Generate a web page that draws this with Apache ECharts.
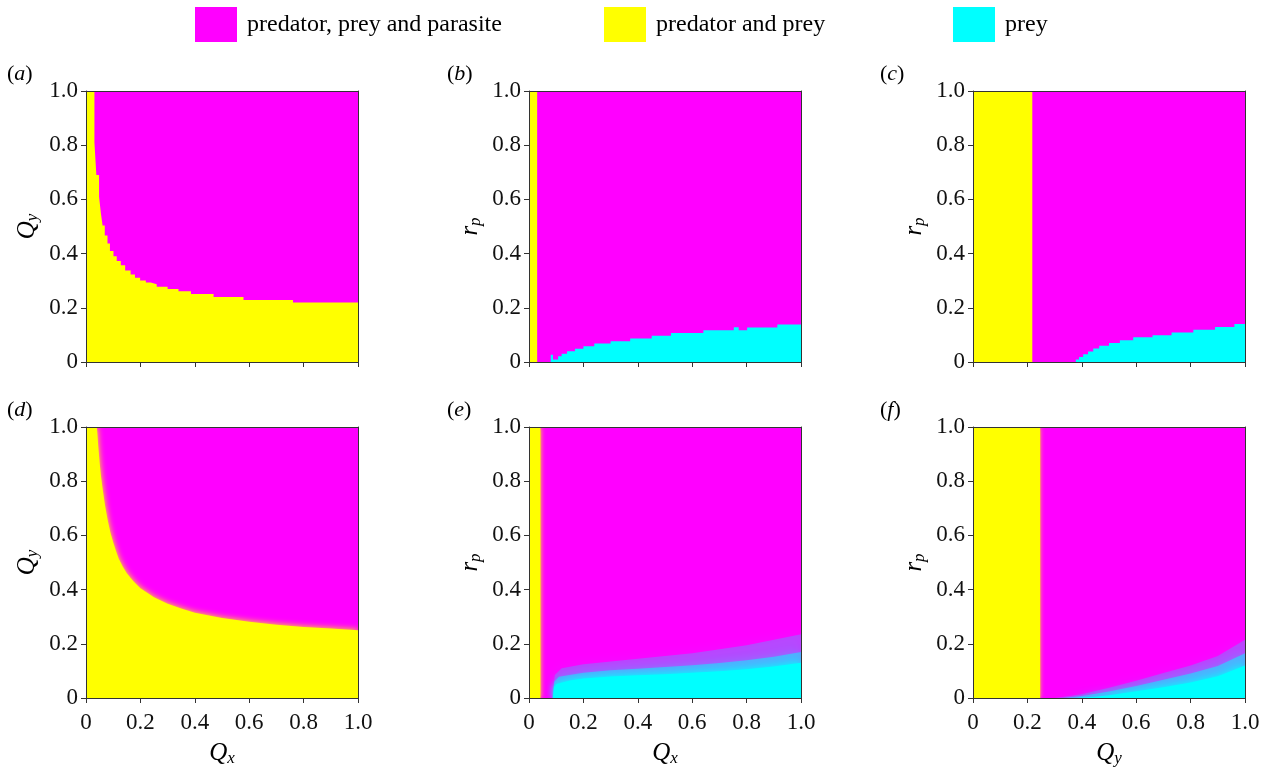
<!DOCTYPE html>
<html>
<head>
<meta charset="utf-8">
<script src="https://cdn.jsdelivr.net/npm/echarts@6/dist/echarts.min.js"></script>
<style>
  html, body { margin: 0; padding: 0; background: #fff; }
  #chart { width: 1269px; height: 774px; }
</style>
</head>
<body>
<div id="chart"></div>
<script>
// ---------------- DATA ----------------
const legendNames = ['predator, prey and parasite', 'predator and prey', 'prey'];
const tickLabels = ['0', '0.2', '0.4', '0.6', '0.8', '1.0'];
const panelLetters = ['a', 'b', 'c', 'd', 'e', 'f'];
const yAxisNames = [['Q', 'y'], ['r', 'p'], ['r', 'p'], ['Q', 'y'], ['r', 'p'], ['r', 'p']];
const xAxisNames = [null, null, null, ['Q', 'x'], ['Q', 'x'], ['Q', 'y']];

// whole parameter square (parasite coexistence background)
const fullSquare = [[0, 1], [1, 1]];

// (a) predator-and-prey region: top boundary [x, y] (stepped)
const aPredPrey = [[0, 1], [0.031, 0.81], [0.038, 0.69], [0.048, 0.61], [0.055, 0.547], [0.061, 0.504],
  [0.069, 0.467], [0.079, 0.437], [0.088, 0.41], [0.101, 0.39], [0.113, 0.373], [0.128, 0.357],
  [0.144, 0.338], [0.164, 0.323], [0.18, 0.311], [0.199, 0.301], [0.22, 0.293], [0.238, 0.287],
  [0.26, 0.278], [0.30, 0.269], [0.34, 0.261], [0.386, 0.251], [0.469, 0.24], [0.579, 0.229],
  [0.761, 0.22], [1.0, 0.22]];
// (b)
const bPredPrey = [[0, 1], [0.03, 1]];
const bPrey = [[0.08, 0.027], [0.088, 0.009], [0.107, 0.021], [0.12, 0.03], [0.14, 0.04], [0.169, 0.049],
  [0.2, 0.058], [0.24, 0.068], [0.3, 0.077], [0.372, 0.087], [0.451, 0.097], [0.522, 0.107],
  [0.641, 0.117], [0.753, 0.128], [0.771, 0.117], [0.802, 0.127], [0.913, 0.138], [1.0, 0.138]];
// (c)
const cPredPrey = [[0, 1], [0.218, 1]];
const cPrey = [[0.378, 0.009], [0.39, 0.018], [0.405, 0.029], [0.423, 0.039], [0.442, 0.05], [0.464, 0.06],
  [0.5, 0.07], [0.54, 0.08], [0.589, 0.091], [0.66, 0.099], [0.73, 0.109], [0.81, 0.119],
  [0.89, 0.129], [0.961, 0.14], [1.0, 0.14]];
// (d)
const dPredPrey = [[0, 1], [0.04, 1], [0.045, 0.93], [0.05, 0.87], [0.055, 0.82], [0.06, 0.78],
  [0.07, 0.71], [0.08, 0.655], [0.09, 0.61], [0.1, 0.575], [0.11, 0.543], [0.12, 0.515],
  [0.135, 0.485], [0.15, 0.46], [0.175, 0.43], [0.2, 0.405], [0.25, 0.372], [0.3, 0.348],
  [0.35, 0.33], [0.4, 0.315], [0.5, 0.295], [0.6, 0.281], [0.7, 0.27], [0.8, 0.262],
  [0.9, 0.256], [1.0, 0.25]];
// (e)
const ePredPrey = [[0, 1], [0.042, 1]];
const ePreyOuter = [[0.085, 0], [0.095, 0.085], [0.12, 0.11], [0.2, 0.125], [0.3, 0.135], [0.4, 0.145],
  [0.5, 0.155], [0.6, 0.165], [0.7, 0.18], [0.8, 0.195], [0.9, 0.215], [1.0, 0.235]];
const ePreyInner = [[0.087, 0], [0.093, 0.06], [0.11, 0.078], [0.2, 0.093], [0.3, 0.102], [0.4, 0.108],
  [0.5, 0.114], [0.6, 0.121], [0.7, 0.129], [0.8, 0.139], [0.9, 0.152], [1.0, 0.17]];
const ePrey = [[0.088, 0], [0.092, 0.04], [0.1, 0.052], [0.15, 0.065], [0.2, 0.072], [0.3, 0.079],
  [0.4, 0.084], [0.5, 0.088], [0.6, 0.093], [0.7, 0.099], [0.8, 0.106], [0.9, 0.116], [1.0, 0.13]];
// (f)
const fPredPrey = [[0, 1], [0.247, 1]];
const fPreyOuter = [[0.3, 0], [0.4, 0.014], [0.5, 0.038], [0.6, 0.064], [0.7, 0.092], [0.8, 0.12],
  [0.9, 0.155], [1.0, 0.215]];
const fPreyInner = [[0.33, 0], [0.4, 0.007], [0.5, 0.024], [0.6, 0.044], [0.7, 0.067], [0.8, 0.09],
  [0.9, 0.118], [1.0, 0.165]];
const fPrey = [[0.37, 0], [0.45, 0.005], [0.5, 0.01], [0.6, 0.025], [0.7, 0.04], [0.8, 0.057],
  [0.9, 0.08], [1.0, 0.12]];

// ---------------- STYLE / LAYOUT ----------------
const MAGENTA = '#ff00ff', YELLOW = '#ffff00', CYAN = '#00ffff';
const FONT = 'Liberation Serif';
const AXIS_COLOR = '#333';
const gridLefts = [86, 529, 973];
const gridTops = [91, 427];
const GW = 272, GH = 271;
const legendLefts = [195, 604, 953];

// layers per panel: [dataArray, legend-name index or -1, color, stepped, blur]
const panels = [
  [[aPredPrey, 1, YELLOW, true, 0]],
  [[bPredPrey, 1, YELLOW, true, 0], [bPrey, 2, CYAN, true, 0]],
  [[cPredPrey, 1, YELLOW, true, 0], [cPrey, 2, CYAN, true, 0]],
  [[dPredPrey, 1, YELLOW, false, 6]],
  [[ePredPrey, 1, YELLOW, false, 5], [ePreyOuter, -1, 'rgba(0,255,255,0.25)', false, 12],
   [ePreyInner, -1, 'rgba(0,255,255,0.5)', false, 9], [ePrey, 2, CYAN, false, 6]],
  [[fPredPrey, 1, YELLOW, false, 5], [fPreyOuter, -1, 'rgba(0,255,255,0.25)', false, 12],
   [fPreyInner, -1, 'rgba(0,255,255,0.5)', false, 9], [fPrey, 2, CYAN, false, 6]]
];

const richName = {
  i: { fontFamily: FONT, fontStyle: 'italic', fontSize: 25, color: '#000', lineHeight: 26, verticalAlign: 'top' },
  s: { fontFamily: FONT, fontStyle: 'italic', fontSize: 17, color: '#000', lineHeight: 17, verticalAlign: 'bottom', padding: [15, 0, 0, 0] }
};

const grids = [], xAxes = [], yAxes = [], series = [], titles = [];

panels.forEach((layers, p) => {
  const col = p % 3, row = Math.floor(p / 3);
  grids.push({ left: gridLefts[col], top: gridTops[row], width: GW, height: GH, containLabel: false });
  const common = { type: 'value', min: 0, max: 1, interval: 0.2, gridIndex: p, z: 10,
    splitLine: { show: false },
    axisLine: { show: true, onZero: false, lineStyle: { color: AXIS_COLOR, width: 1 } } };
  const xn = xAxisNames[p];
  xAxes.push(Object.assign({}, common, {
    position: 'bottom',
    axisTick: { show: true, length: 5, lineStyle: { color: AXIS_COLOR } },
    axisLabel: { show: row === 1, margin: 13, fontFamily: FONT, fontSize: 23, color: '#111',
      formatter: v => tickLabels[Math.round(v / 0.2)] },
    name: xn ? '{i|' + xn[0] + '}{s|' + xn[1] + '}' : '',
    nameLocation: 'middle', nameGap: 42,
    nameTextStyle: { rich: richName }
  }));
  xAxes.push(Object.assign({}, common, { position: 'top', axisTick: { show: false }, axisLabel: { show: false } }));
  const yn = yAxisNames[p];
  yAxes.push(Object.assign({}, common, {
    position: 'left',
    axisTick: { show: true, length: 5, lineStyle: { color: AXIS_COLOR } },
    axisLabel: { show: true, margin: 8, fontFamily: FONT, fontSize: 23, color: '#111',
      formatter: v => tickLabels[Math.round(v / 0.2)] },
    name: '{i|' + yn[0] + '}{s|' + yn[1] + '}',
    nameLocation: 'middle', nameGap: 45, nameRotate: 90,
    nameTextStyle: { rich: richName }
  }));
  yAxes.push(Object.assign({}, common, { position: 'right', axisTick: { show: false }, axisLabel: { show: false } }));

  const mk = (data, nameIdx, color, stepped, blur) => ({
    type: 'line', name: nameIdx >= 0 ? legendNames[nameIdx] : 'transition',
    xAxisIndex: 2 * p, yAxisIndex: 2 * p, data: data,
    step: stepped ? 'end' : false, symbol: 'none', silent: true, animation: false,
    smooth: false,
    color: color, itemStyle: { color: color },
    lineStyle: { width: 0, opacity: 0 },
    areaStyle: Object.assign({ color: color, opacity: 1, origin: 'start' },
      blur ? { shadowBlur: blur, shadowColor: color } : {})
  });
  series.push(mk(fullSquare, 0, MAGENTA, true, 0));
  layers.forEach(l => series.push(mk(l[0], l[1], l[2], l[3], l[4])));

  titles.push({
    text: '{p|(}{l|' + panelLetters[p] + '}{p|)}',
    left: [7, 447, 880][col], top: [63, 399][row], padding: 0,
    textStyle: { fontWeight: 'normal', rich: {
      p: { fontFamily: FONT, fontSize: 22, fontWeight: 'normal', color: '#000' },
      l: { fontFamily: FONT, fontSize: 22, fontStyle: 'italic', fontWeight: 'normal', color: '#000' } } }
  });
});

const legends = legendNames.map((n, i) => ({
  data: [n], left: legendLefts[i], top: 7, orient: 'horizontal', icon: 'rect',
  itemWidth: 42, itemHeight: 35, selectedMode: false, padding: 0,
  textStyle: { fontFamily: FONT, fontSize: 24, color: '#000', padding: [0, 0, 0, 5] }
}));

const chart = echarts.init(document.getElementById('chart'), null, { renderer: 'canvas' });
chart.setOption({
  animation: false,
  backgroundColor: '#fff',
  title: titles,
  legend: legends,
  grid: grids,
  xAxis: xAxes,
  yAxis: yAxes,
  series: series
});
</script>
</body>
</html>
